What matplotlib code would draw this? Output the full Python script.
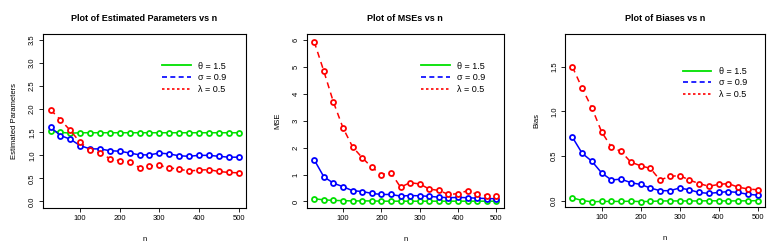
import matplotlib
matplotlib.use("Agg")
import matplotlib.pyplot as plt
from matplotlib.lines import Line2D
import numpy as np

plt.rcParams['font.family'] = ['Liberation Sans', 'DejaVu Sans']

n = [25, 50, 75, 100, 125, 150, 175, 200, 225, 250,
     275, 300, 325, 350, 375, 400, 425, 450, 475, 500]

# estimated parameters
est_theta = [1.53, 1.50, 1.48, 1.49, 1.49, 1.49, 1.49, 1.49, 1.49, 1.49,
             1.49, 1.49, 1.49, 1.49, 1.49, 1.49, 1.49, 1.49, 1.49, 1.49]
est_sigma = [1.61, 1.43, 1.35, 1.21, 1.14, 1.14, 1.10, 1.09, 1.05, 1.01,
             1.01, 1.05, 1.03, 0.99, 0.98, 1.00, 1.00, 0.98, 0.96, 0.96]
est_lambda = [1.99, 1.77, 1.54, 1.28, 1.11, 1.05, 0.93, 0.88, 0.86, 0.73,
              0.77, 0.78, 0.73, 0.70, 0.66, 0.68, 0.69, 0.65, 0.63, 0.62]

# MSEs
mse_theta = [0.10, 0.06, 0.04, 0.03, 0.02, 0.02, 0.02, 0.01, 0.01, 0.01,
             0.01, 0.01, 0.01, 0.01, 0.01, 0.01, 0.01, 0.01, 0.01, 0.01]
mse_sigma = [1.55, 0.92, 0.68, 0.55, 0.40, 0.37, 0.30, 0.26, 0.26, 0.20,
             0.22, 0.21, 0.19, 0.16, 0.14, 0.15, 0.14, 0.12, 0.11, 0.10]
mse_lambda = [5.94, 4.85, 3.70, 2.74, 2.03, 1.63, 1.27, 1.00, 1.07, 0.53,
              0.70, 0.65, 0.46, 0.41, 0.26, 0.29, 0.40, 0.26, 0.22, 0.19]

# biases
bias_theta = [0.03, 0.00, -0.015, -0.01, -0.01, -0.01, -0.008, -0.012, -0.01, -0.005,
              -0.005, -0.005, -0.005, -0.005, -0.003, -0.004, -0.005, -0.004, -0.004, -0.002]
bias_sigma = [0.71, 0.53, 0.44, 0.31, 0.23, 0.24, 0.20, 0.18, 0.14, 0.11,
              0.11, 0.14, 0.12, 0.09, 0.08, 0.09, 0.10, 0.09, 0.07, 0.06]
bias_lambda = [1.50, 1.26, 1.04, 0.77, 0.60, 0.55, 0.43, 0.39, 0.36, 0.23,
               0.27, 0.28, 0.23, 0.19, 0.16, 0.18, 0.19, 0.15, 0.13, 0.12]

labels = ["\u03b8 = 1.5", "\u03c3 = 0.9", "\u03bb = 0.5"]
colors = ["#00e000", "#0000ff", "#ff0000"]

panels = [
    ("Plot of Estimated Parameters vs n", "Estimated Parameters",
     [est_theta, est_sigma, est_lambda], (0, 3.5), np.arange(0, 3.51, 0.5), "%.1f",
     [0.0555, 0.165, 0.262, 0.700], (0.57, 0.86)),
    ("Plot of MSEs vs n", "MSE",
     [mse_theta, mse_sigma, mse_lambda], (0, 6.0), np.arange(0, 7, 1), "%d",
     [0.396, 0.165, 0.254, 0.700], (0.56, 0.86)),
    ("Plot of Biases vs n", "Bias",
     [bias_theta, bias_sigma, bias_lambda], (0, 1.8), [0, 0.5, 1.0, 1.5], "%.1f",
     [0.729, 0.169, 0.258, 0.696], (0.57, 0.83)),
]

fig = plt.figure(figsize=(7.75, 2.49), dpi=100)

for title, ylab, series, ylim, yticks, fmt, rect, leg_pos in panels:
    ax = fig.add_axes(rect)
    styles = ['-', '-', (0, (4, 3))]
    for y, c, ls in zip(series, colors, styles):
        ax.plot(n, y, color=c, linestyle=ls, linewidth=1.1,
                marker='o', markersize=3.6, markerfacecolor='white',
                markeredgecolor=c, markeredgewidth=1.3)
    pad = 0.04 * (ylim[1] - ylim[0])
    ax.set_ylim(ylim[0] - pad, ylim[1] + pad)
    ax.set_xlim(25 - 0.04 * 475, 500 + 0.04 * 475)
    ax.set_xticks([100, 200, 300, 400, 500])
    ax.set_yticks(yticks)
    ax.set_yticklabels([fmt % v for v in yticks], rotation=90, va='center')
    ax.tick_params(labelsize=5.5, length=3, width=0.6, pad=2)
    for s in ax.spines.values():
        s.set_linewidth(0.8)
    ax.set_title(title, fontsize=6.5, fontweight='bold', pad=9)
    ax.set_xlabel("n", fontsize=5.5, labelpad=10)
    ax.set_ylabel(ylab, fontsize=5.5, labelpad=8)

    handles = [Line2D([], [], color=colors[0], linestyle='-', linewidth=1.3),
               Line2D([], [], color=colors[1], linestyle=(0, (3, 2)), linewidth=1.2),
               Line2D([], [], color=colors[2], linestyle=(0, (1.5, 1.5)), linewidth=1.2)]
    ax.legend(handles, labels, loc='upper left', bbox_to_anchor=leg_pos,
              frameon=False, fontsize=6.5, handlelength=3.2, handletextpad=0.8,
              labelspacing=0.3, borderaxespad=0)

fig.savefig("out.png", dpi=100)
